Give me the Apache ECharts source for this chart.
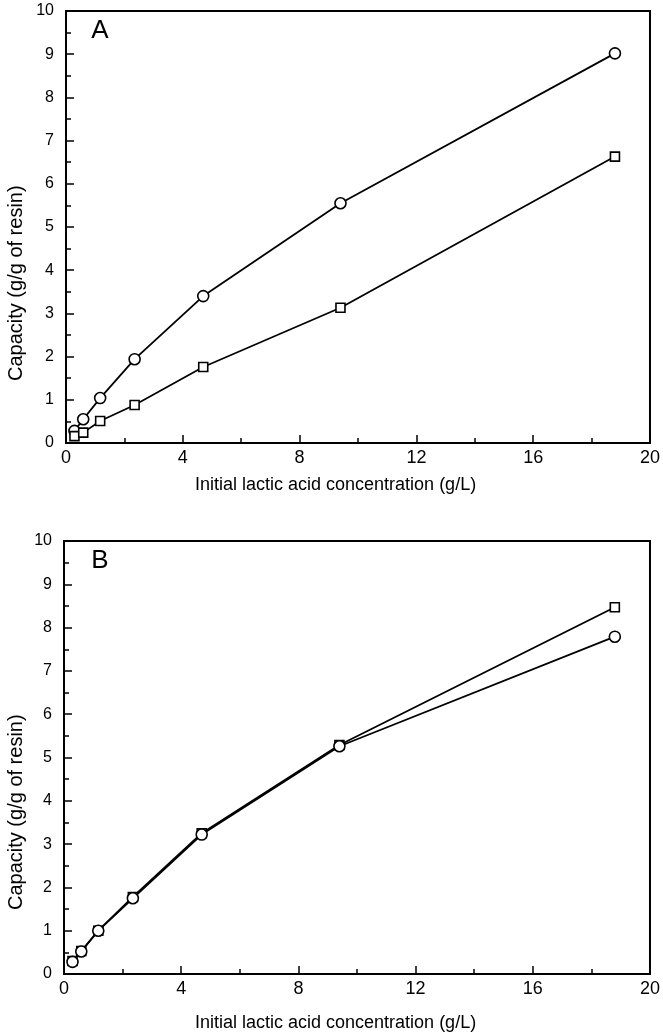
<!DOCTYPE html>
<html>
<head>
<meta charset="utf-8">
<script src="https://cdn.jsdelivr.net/npm/echarts@6/dist/echarts.min.js"></script>
<style>
html,body{margin:0;padding:0;background:#fff;}
#chart{width:663px;height:1034px;}
</style>
</head>
<body>
<div id="chart"></div>
<script>
// Data
const concentration = [0.29, 0.59, 1.17, 2.35, 4.7, 9.4, 18.8];
const panelA_circles = [0.28, 0.55, 1.04, 1.94, 3.40, 5.55, 9.02];
const panelA_squares = [0.16, 0.24, 0.51, 0.88, 1.76, 3.13, 6.63];
const panelB_circles = [0.28, 0.52, 1.00, 1.75, 3.22, 5.26, 7.79];
const panelB_squares = [0.30, 0.53, 1.00, 1.78, 3.25, 5.29, 8.47];
const panelLabels = ['A', 'B'];
const xTitle = 'Initial lactic acid concentration (g/L)';
const yTitle = 'Capacity (g/g of resin)';

const FONT = 'Liberation Sans';
const pair = (ys) => concentration.map((x, i) => [x, ys[i]]);

function xAxisDef(gi) {
  return {
    type: 'value', gridIndex: gi, min: 0, max: 20, interval: 4,
    axisLine: {show: true, lineStyle: {color: '#000', width: 2}},
    axisTick: {show: true, inside: true, length: 8, lineStyle: {color: '#000', width: 1.5}},
    minorTick: {show: true, splitNumber: 2, length: 5, lineStyle: {color: '#000', width: 1.5}},
    axisLabel: {show: true, color: '#000', fontSize: 18, fontFamily: FONT, margin: 6},
    splitLine: {show: false}, minorSplitLine: {show: false}
  };
}
function yAxisDef(gi) {
  return {
    type: 'value', gridIndex: gi, min: 0, max: 10, interval: 1,
    axisLine: {show: true, lineStyle: {color: '#000', width: 2}},
    axisTick: {show: true, inside: true, length: 8, lineStyle: {color: '#000', width: 1.5}},
    minorTick: {show: true, splitNumber: 2, length: 5, lineStyle: {color: '#000', width: 1.5}},
    axisLabel: {show: true, color: '#000', fontSize: 16, fontFamily: FONT, margin: 12},
    splitLine: {show: false}, minorSplitLine: {show: false}
  };
}
function seriesDef(gi, ys, symbol, size) {
  return {
    type: 'line', xAxisIndex: gi, yAxisIndex: gi, data: pair(ys),
    symbol: symbol, symbolSize: size, showAllSymbol: true,
    lineStyle: {color: '#000', width: 1.8},
    itemStyle: {color: '#fff', borderColor: '#000', borderWidth: 1.6},
    animation: false, z: 3
  };
}

const chart = echarts.init(document.getElementById('chart'), null, {renderer: 'canvas'});
chart.setOption({
  backgroundColor: '#fff',
  animation: false,
  textStyle: {fontFamily: FONT},
  grid: [
    {left: 66, top: 11, width: 587, height: 432, show: true, borderColor: '#000', borderWidth: 2, containLabel: false},
    {left: 64, top: 541, width: 588, height: 433, show: true, borderColor: '#000', borderWidth: 2, containLabel: false}
  ],
  xAxis: [xAxisDef(0), xAxisDef(1)],
  yAxis: [yAxisDef(0), yAxisDef(1)],
  series: [
    seriesDef(0, panelA_circles, 'circle', 11),
    seriesDef(0, panelA_squares, 'rect', 9),
    seriesDef(1, panelB_squares, 'rect', 9),
    seriesDef(1, panelB_circles, 'circle', 11)
  ],
  graphic: [
    {type: 'text', x: 100, y: 31, style: {text: panelLabels[0], fontSize: 26, fontFamily: FONT, fill: '#000', align: 'center', verticalAlign: 'middle'}},
    {type: 'text', x: 100, y: 561, style: {text: panelLabels[1], fontSize: 26, fontFamily: FONT, fill: '#000', align: 'center', verticalAlign: 'middle'}},
    {type: 'text', x: 195, y: 485, style: {text: xTitle, fontSize: 18, fontFamily: FONT, fill: '#000', align: 'left', verticalAlign: 'middle'}},
    {type: 'text', x: 195, y: 1023, style: {text: xTitle, fontSize: 18, fontFamily: FONT, fill: '#000', align: 'left', verticalAlign: 'middle'}},
    {type: 'text', x: 16, y: 381, rotation: Math.PI / 2, style: {text: yTitle, fontSize: 20, fontFamily: FONT, fill: '#000', align: 'left', verticalAlign: 'middle'}},
    {type: 'text', x: 16, y: 910, rotation: Math.PI / 2, style: {text: yTitle, fontSize: 20, fontFamily: FONT, fill: '#000', align: 'left', verticalAlign: 'middle'}}
  ]
});
</script>
</body>
</html>
